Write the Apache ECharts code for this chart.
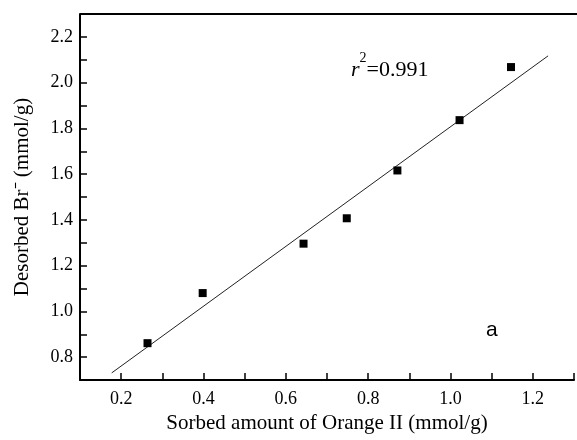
<!DOCTYPE html>
<html>
<head>
<meta charset="utf-8">
<script src="https://cdn.jsdelivr.net/npm/echarts@6/dist/echarts.min.js"></script>
<style>
  html, body { margin: 0; padding: 0; background: #fff; }
  #chart { width: 577px; height: 440px; }
</style>
</head>
<body>
<div id="chart"></div>
<script>
// measured points: sorbed Orange II vs desorbed Br-
const sorbed = [0.264, 0.398, 0.643, 0.748, 0.871, 1.022, 1.147]
const desorbed = [0.861, 1.080, 1.296, 1.407, 1.616, 1.836, 2.068]
// ends of the fitted line
const fitX = [0.177, 1.237]
const fitY = [0.731, 2.117]
const xTicks = [0.2, 0.4, 0.6, 0.8, 1.0, 1.2]
const yTicks = [0.8, 1.0, 1.2, 1.4, 1.6, 1.8, 2.0, 2.2]

const serif = 'Liberation Serif'
const axisCommon = {
  axisLine: { lineStyle: { color: '#000', width: 2 } },
  axisTick: { inside: true, length: 7, lineStyle: { color: '#000', width: 1.5 } },
  minorTick: { show: false },
  splitLine: { show: false },
  nameLocation: 'middle',
  nameTextStyle: { fontFamily: serif, fontSize: 21, color: '#000' }
}

const chart = echarts.init(document.getElementById('chart'))
chart.setOption({
  backgroundColor: '#fff',
  animation: false,
  grid: { left: 80, top: 14, width: 499, height: 366 },
  xAxis: Object.assign({}, axisCommon, {
    type: 'value',
    min: 0.1,
    max: 1.3,
    interval: 0.1,
    name: 'Sorbed amount of Orange II (mmol/g)',
    nameGap: 31,
    axisLabel: {
      fontFamily: serif, fontSize: 18, color: '#000', margin: 10,
      formatter: v => xTicks.some(t => Math.abs(t - v) < 1e-6) ? v.toFixed(1) : ''
    }
  }),
  yAxis: Object.assign({}, axisCommon, {
    type: 'value',
    min: 0.7,
    max: 2.3,
    interval: 0.1,
    name: 'Desorbed Br\u207B (mmol/g)',
    nameGap: 47,
    axisLabel: {
      fontFamily: serif, fontSize: 18, color: '#000', margin: 7,
      formatter: v => yTicks.some(t => Math.abs(t - v) < 1e-6) ? v.toFixed(1) : ''
    }
  }),
  graphic: [
    { type: 'line', shape: { x1: 80, y1: 14, x2: 577, y2: 14 }, style: { stroke: '#000', lineWidth: 2 } },
    {
      type: 'text', left: 351, top: 51,
      style: {
        text: '{i|r}{s|2}{n|=0.991}',
        rich: {
          i: { fontFamily: serif, fontStyle: 'italic', fontSize: 22, lineHeight: 30, fill: '#000', verticalAlign: 'bottom' },
          s: { fontFamily: serif, fontSize: 14, lineHeight: 12, fill: '#000', verticalAlign: 'top' },
          n: { fontFamily: serif, fontSize: 22, lineHeight: 30, fill: '#000', verticalAlign: 'bottom' }
        }
      }
    },
    { type: 'text', left: 486, top: 320, style: { text: 'a', fontFamily: 'Liberation Sans', fontSize: 21, fill: '#000' } }
  ],
  series: [
    {
      type: 'line',
      data: fitX.map((x, i) => [x, fitY[i]]),
      symbol: 'none',
      lineStyle: { color: '#222', width: 1 },
      z: 2
    },
    {
      type: 'scatter',
      data: sorbed.map((x, i) => [x, desorbed[i]]),
      symbol: 'rect',
      symbolSize: 8,
      itemStyle: { color: '#000', opacity: 1 },
      z: 3
    }
  ]
})
</script>
</body>
</html>
